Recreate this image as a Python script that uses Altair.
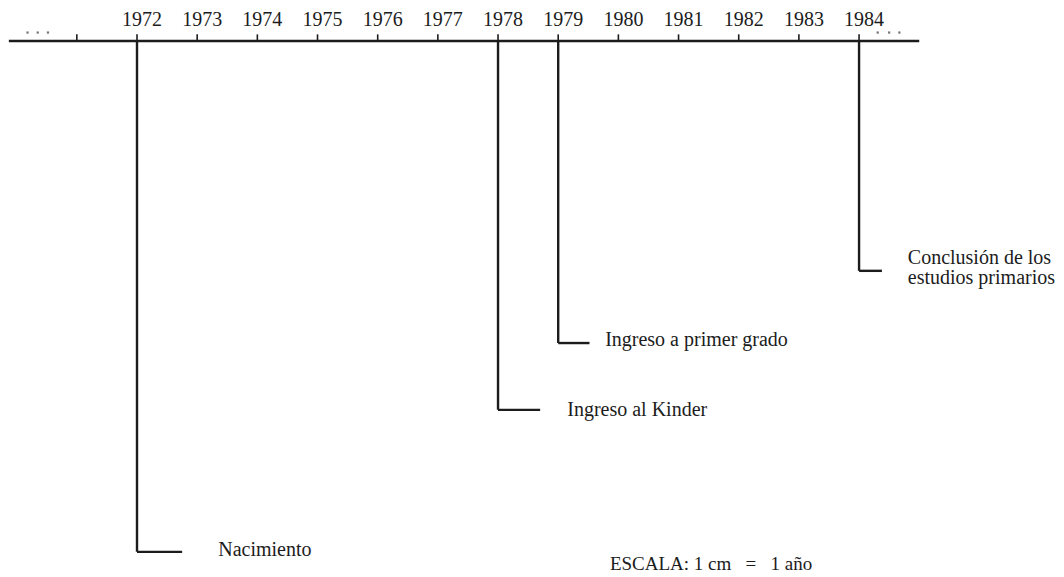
import altair as alt
import pandas as pd

# --- data (x in years, depth in cm below the time axis; 1 cm = 1 year) ---
anios_marca = [1971, 1972, 1973, 1974, 1975, 1976, 1977, 1978, 1979, 1980, 1981, 1982, 1983, 1984]
anios_etiqueta = [1972, 1973, 1974, 1975, 1976, 1977, 1978, 1979, 1980, 1981, 1982, 1983, 1984]
etiquetas_anio = [str(a) for a in anios_etiqueta]

eje_inicio = 1969.87
eje_fin = 1985.0

anios_evento = [1972, 1978, 1979, 1984]
eventos = ["Nacimiento", "Ingreso al Kinder", "Ingreso a primer grado",
           "Conclusión de los\nestudios primarios"]
profundidad = [8.49, 6.13, 5.02, 3.82]
fin_tramo = [1972.75, 1978.70, 1979.52, 1984.38]
inicio_texto = [1973.35, 1979.15, 1979.78, 1984.81]
altura_texto = [8.46, 6.13, 4.97, 3.61]

puntos_izq = [1970.18, 1970.35, 1970.52]
puntos_der = [1984.31, 1984.50, 1984.67]
altura_puntos = -0.14

nota = "ESCALA:\u00a01\u00a0cm\u00a0\u00a0\u00a0=\u00a0\u00a0\u00a01\u00a0año"
nota_x = 1979.86
nota_y = 8.70

FONT = "Liberation Serif"
INK = "#1c1c1c"

xs = alt.Scale(domain=[1969.856, 1987.273], nice=False, zero=False)
ys = alt.Scale(domain=[-0.548, 8.908], nice=False, zero=False, reverse=True)

def X(f):
    return alt.X(f, type="quantitative", scale=xs, axis=None)

def Y(f):
    return alt.Y(f, type="quantitative", scale=ys, axis=None)

eje = pd.DataFrame({"x0": [eje_inicio], "x1": [eje_fin], "y": [0.0]})
linea_eje = alt.Chart(eje).mark_rule(color=INK, strokeWidth=2.6).encode(
    x=X("x0"), x2="x1", y=Y("y"))

marcas = pd.DataFrame({"anio": anios_marca, "y0": 0.0, "y1": -0.11})
lineas_marca = alt.Chart(marcas).mark_rule(color=INK, strokeWidth=1.6).encode(
    x=X("anio"), y=Y("y0"), y2="y1")

lab = pd.DataFrame({"anio": anios_etiqueta, "txt": etiquetas_anio, "y": -0.35})
textos_anio = alt.Chart(lab).mark_text(
    font=FONT, fontSize=20, color=INK, dx=5, baseline="middle", align="center"
).encode(x=X("anio"), y=Y("y"), text="txt:N")

ev = pd.DataFrame({
    "anio": anios_evento, "evento": eventos, "prof": profundidad,
    "fin": fin_tramo, "tx": inicio_texto, "ty": altura_texto, "cero": 0.0,
})
verticales = alt.Chart(ev).mark_rule(color=INK, strokeWidth=2.4).encode(
    x=X("anio"), y=Y("cero"), y2="prof")
tramos = alt.Chart(ev).mark_rule(color=INK, strokeWidth=2.4).encode(
    x=X("anio"), x2="fin", y=Y("prof"))
textos_ev = alt.Chart(ev).mark_text(
    font=FONT, fontSize=20, color=INK, align="left", baseline="middle",
    lineBreak="\n", lineHeight=20
).encode(x=X("tx"), y=Y("ty"), text="evento:N")

pts = pd.DataFrame({"x": puntos_izq + puntos_der, "y": altura_puntos})
puntos = alt.Chart(pts).mark_point(
    filled=True, shape="square", size=5, color="#555", opacity=0.8
).encode(x=X("x"), y=Y("y"))

nt = pd.DataFrame({"x": [nota_x], "y": [nota_y], "t": [nota]})
texto_nota = alt.Chart(nt).mark_text(
    font=FONT, fontSize=19, color=INK, align="left", baseline="middle"
).encode(x=X("x"), y=Y("y"), text="t:N")

chart = alt.layer(
    linea_eje, lineas_marca, textos_anio, verticales, tramos, textos_ev, puntos, texto_nota
).properties(
    width=1048, height=569, autosize=alt.AutoSizeParams(type="none"), padding=0,
    background="white"
).configure_view(stroke=None)

chart.save("out.html", embed_options={"renderer": "svg", "actions": False})
